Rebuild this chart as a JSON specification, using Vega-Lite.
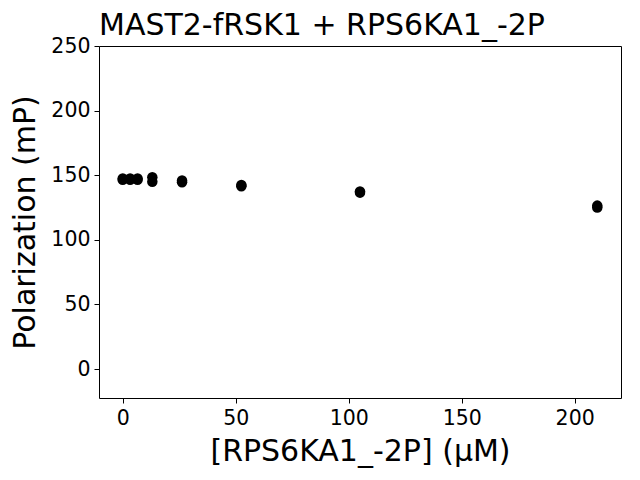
{
  "$schema": "https://vega.github.io/schema/vega-lite/v6.json",
  "width": 522,
  "height": 352,
  "autosize": {"type": "none"},
  "padding": {"left": 99, "top": 46, "right": 19, "bottom": 82},
  "background": "white",
  "title": {"text": "MAST2-fRSK1 + RPS6KA1_-2P", "anchor": "start", "frame": "group", "font": "DejaVu Sans", "fontSize": 30, "fontWeight": "normal", "color": "black", "offset": -5},
  "config": {"view": {"stroke": "black", "strokeWidth": 1}},
  "data": {"values": [
    {"conc": 0, "mP": 147.5},
    {"conc": 0, "mP": 146.5},
    {"conc": 3.28, "mP": 147.5},
    {"conc": 3.28, "mP": 146.5},
    {"conc": 6.56, "mP": 147.5},
    {"conc": 6.56, "mP": 146.5},
    {"conc": 13.1, "mP": 148.5},
    {"conc": 13.1, "mP": 145},
    {"conc": 26.25, "mP": 144.5},
    {"conc": 26.25, "mP": 146},
    {"conc": 52.5, "mP": 142.5},
    {"conc": 52.5, "mP": 141.5},
    {"conc": 105, "mP": 137.5},
    {"conc": 105, "mP": 136.5},
    {"conc": 210, "mP": 126.5},
    {"conc": 210, "mP": 125}
  ]},
  "mark": {"type": "circle", "color": "black", "opacity": 1, "size": 110},
  "encoding": {
    "x": {"field": "conc", "type": "quantitative", "title": "[RPS6KA1_-2P] (μM)",
      "scale": {"domain": [-10.5, 220.5], "nice": false, "zero": false},
      "axis": {"values": [0, 50, 100, 150, 200], "grid": false, "domain": false, "tickColor": "black", "tickSize": 5, "labelFont": "DejaVu Sans", "labelFontSize": 20.5, "labelColor": "black", "labelPadding": 5, "titleFont": "DejaVu Sans", "titleFontSize": 30, "titleFontWeight": "normal", "titleColor": "black", "titlePadding": 8}},
    "y": {"field": "mP", "type": "quantitative", "title": "Polarization (mP)",
      "scale": {"domain": [-22.4, 250], "nice": false, "zero": false},
      "axis": {"values": [0, 50, 100, 150, 200, 250], "grid": false, "domain": false, "tickColor": "black", "tickSize": 5, "labelFont": "DejaVu Sans", "labelFontSize": 20.5, "labelColor": "black", "labelPadding": 4, "titleFont": "DejaVu Sans", "titleFontSize": 30, "titleFontWeight": "normal", "titleColor": "black", "titlePadding": 10}}
  }
}
